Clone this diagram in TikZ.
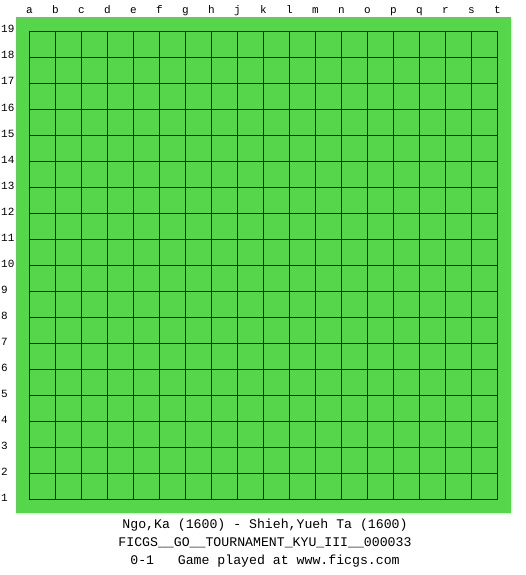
\documentclass[tikz,border=0pt]{standalone}
\usepackage{fontspec}
\setmonofont{Liberation Mono}
\usetikzlibrary{positioning}
\definecolor{BoardGreen}{HTML}{56D64A}
\tikzset{
  board/.style={fill=BoardGreen, draw=none},
  gridline/.style={draw=black, line width=0.9pt},
  coordlabel/.style={font=\ttfamily\fontsize{11}{13}\selectfont, inner sep=0pt, anchor=base},
  infoline/.style={font=\ttfamily\fontsize{13.2}{15}\selectfont, inner sep=0pt, anchor=base}
}
\begin{document}
\begin{tikzpicture}[x=1pt, y=-1pt]
  \useasboundingbox (0,0) rectangle (525,575);
  \fill[board] (16,17) rectangle (511,513);
  % grid
  \foreach \i in {0,...,18} {
    \draw[gridline] (29.5+26*\i,31.5) -- (29.5+26*\i,499.5);
    \draw[gridline] (29.5,31.5+26*\i) -- (497.5,31.5+26*\i);
  }
  % column and row labels
  \foreach \l [count=\i from 0] in {a,b,c,d,e,f,g,h,j,k,l,m,n,o,p,q,r,s,t}
    \node[coordlabel] (col-\l) at (29.5+26*\i,14) {\l};
  \foreach \n in {1,...,19}
    \node[coordlabel, anchor=base west] (row-\n) at (1,33+26*19-26*\n) {\n};
  % game info
  \node[infoline] (players) at (265,528) {Ngo,Ka (1600) - Shieh,Yueh Ta (1600)};
  \node[infoline] (event) at (265,546) {FICGS\_\_GO\_\_TOURNAMENT\_KYU\_III\_\_000033};
  \node[infoline] (result) at (265,564) {0-1\ \ \ Game played at www.ficgs.com};
\end{tikzpicture}
\end{document}
